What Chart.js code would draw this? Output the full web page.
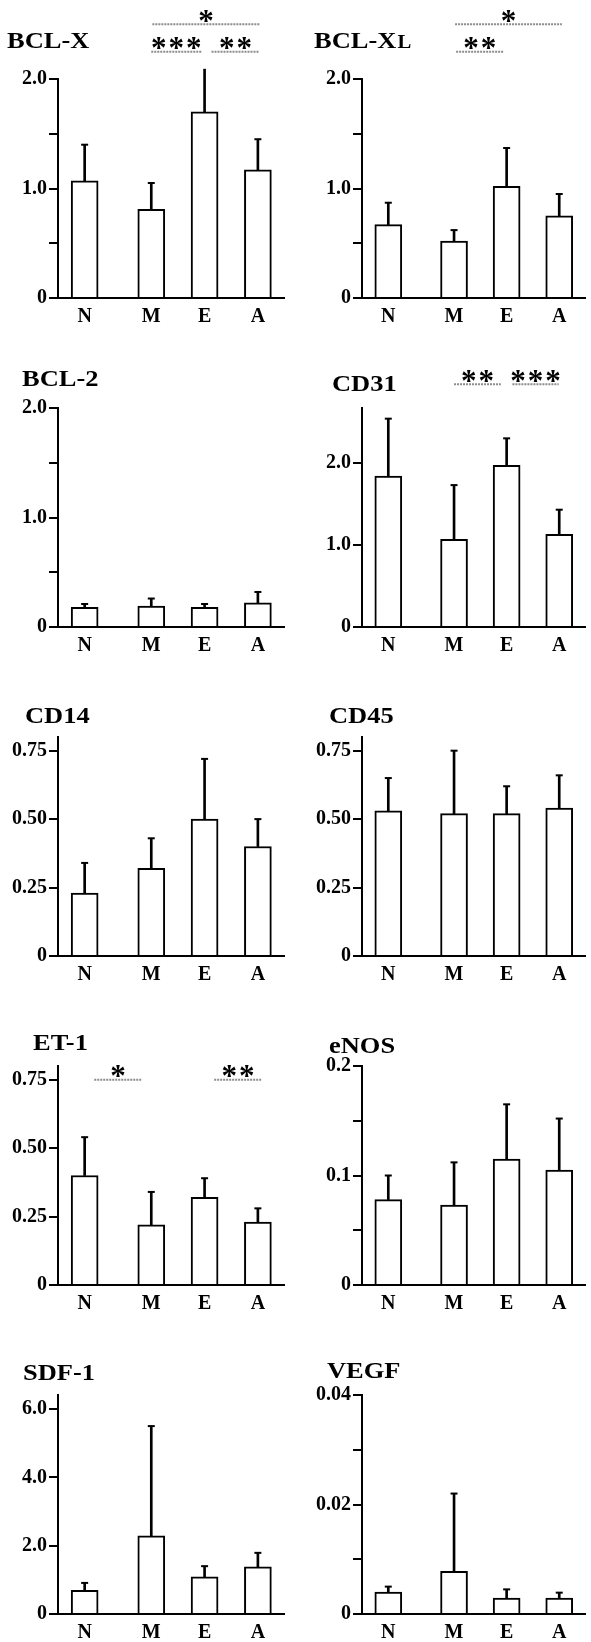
<!DOCTYPE html>
<html>
<head>
<meta charset="utf-8">
<script src="https://cdn.jsdelivr.net/npm/chart.js@4.4.1/dist/chart.umd.min.js"></script>
<style>
  html, body { margin: 0; padding: 0; background: #fff; }
  #page { position: relative; width: 591px; height: 1642px; overflow: hidden; }
  .panel { position: absolute; width: 290px; height: 329px; }
  .panel.right { width: 287px; }
</style>
</head>
<body>
<div id="page"></div>
<script>
// groups on the x axis (N and M are spaced a little further apart)
const groups = ['N', 'M', 'E', 'A'];
const groupX = [0.5, 1.75, 2.75, 3.75];

const markers = ['BCL-X', 'BCL-XL', 'BCL-2', 'CD31', 'CD14', 'CD45', 'ET-1', 'eNOS', 'SDF-1', 'VEGF'];

// bar heights, one row per marker (N, M, E, A)
const means = [
    [1.07, 0.81, 1.70, 1.17],
    [0.67, 0.52, 1.02, 0.75],
    [0.18, 0.19, 0.18, 0.22],
    [1.84, 1.07, 1.97, 1.13],
    [0.23, 0.32, 0.50, 0.40],
    [0.53, 0.52, 0.52, 0.54],
    [0.40, 0.22, 0.32, 0.23],
    [0.078, 0.073, 0.115, 0.105],
    [0.69, 2.29, 1.09, 1.38],
    [0.0040, 0.0078, 0.0029, 0.0029],
];

// top of the error bar for each bar
const errTops = [
    [1.40, 1.05, 2.09, 1.45],
    [0.87, 0.62, 1.37, 0.95],
    [0.21, 0.26, 0.21, 0.32],
    [2.54, 1.73, 2.30, 1.43],
    [0.34, 0.43, 0.72, 0.50],
    [0.65, 0.75, 0.62, 0.66],
    [0.54, 0.34, 0.39, 0.28],
    [0.100, 0.112, 0.165, 0.152],
    [0.91, 5.50, 1.40, 1.79],
    [0.0050, 0.0220, 0.0045, 0.0039],
];

const yMax = [2, 2, 2, 2.67, 0.8, 0.8, 0.8, 0.2, 6.41, 0.04];

const yTicks = [
    [0, 0.5, 1, 1.5, 2],
    [0, 0.5, 1, 1.5, 2],
    [0, 0.5, 1, 1.5, 2],
    [0, 1, 2],
    [0, 0.25, 0.5, 0.75],
    [0, 0.25, 0.5, 0.75],
    [0, 0.25, 0.5, 0.75],
    [0, 0.05, 0.1, 0.15, 0.2],
    [0, 2, 4, 6],
    [0, 0.01, 0.02, 0.03, 0.04],
];

const yTickLabels = [
    ['0', '', '1.0', '', '2.0'],
    ['0', '', '1.0', '', '2.0'],
    ['0', '', '1.0', '', '2.0'],
    ['0', '1.0', '2.0'],
    ['0', '0.25', '0.50', '0.75'],
    ['0', '0.25', '0.50', '0.75'],
    ['0', '0.25', '0.50', '0.75'],
    ['0', '', '0.1', '', '0.2'],
    ['0', '2.0', '4.0', '6.0'],
    ['0', '', '0.02', '', '0.04'],
];

// marker, stars, from x, to x, level (y value of the underline)
const significance = [
    ['BCL-X', '*', 1.77, 3.78, 2.5],
    ['BCL-X', '***', 1.75, 2.69, 2.25],
    ['BCL-X', '**', 2.88, 3.78, 2.25],
    ['BCL-XL', '*', 1.77, 3.80, 2.5],
    ['BCL-XL', '**', 1.79, 2.69, 2.25],
    ['CD31', '**', 1.75, 2.64, 2.96],
    ['CD31', '***', 2.86, 3.74, 2.96],
    ['ET-1', '*', 0.68, 1.57, 0.75],
    ['ET-1', '**', 2.93, 3.82, 0.75],
];

// title placement inside each panel (left x, middle y)
const titlePos = [[7, 40], [10, 40], [22, 49], [28, 54], [25, 57], [25, 57], [33, 55], [25, 58], [23, 56], [23, 54]];

const FONT = '"Liberation Serif", "Times New Roman", serif';

const annotate = {
    id: 'annotate',
    afterDraw(chart, args, opts) {
        const ctx = chart.ctx;
        const xs = chart.scales.x, ys = chart.scales.y;

        // panel title, slightly widened like the original figure
        ctx.save();
        ctx.fillStyle = '#000';
        ctx.textBaseline = 'alphabetic';
        ctx.translate(opts.pos[0], opts.pos[1] + 8);
        ctx.scale(1.15, 1);
        ctx.font = 'bold 23px ' + FONT;
        let name = opts.title, small = '';
        if (name === 'BCL-XL') { name = 'BCL-X'; small = 'L'; }
        ctx.fillText(name, 0, 0);
        if (small) {
            const w = ctx.measureText(name).width;
            ctx.font = 'bold 18px ' + FONT;
            ctx.fillText(small, w + 1, 0);
        }
        ctx.restore();

        // significance stars with grey underline
        opts.marks.forEach(([, stars, from, to, level]) => {
            const x0 = xs.getPixelForValue(from);
            const x1 = xs.getPixelForValue(to);
            const ly = ys.getPixelForValue(level);
            ctx.save();
            ctx.strokeStyle = '#8c8c8c';
            ctx.lineWidth = 2;
            ctx.setLineDash([2, 1]);
            ctx.beginPath();
            ctx.moveTo(x0, ly);
            ctx.lineTo(x1, ly);
            ctx.stroke();
            ctx.setLineDash([]);
            ctx.font = 'bold 31px ' + FONT;
            ctx.letterSpacing = '2px';
            ctx.textAlign = 'center';
            ctx.textBaseline = 'alphabetic';
            ctx.fillStyle = '#000';
            const m = ctx.measureText(stars);
            const cy = ly - 8.5;
            const base = cy + (m.actualBoundingBoxAscent - m.actualBoundingBoxDescent) / 2;
            ctx.fillText(stars, (x0 + x1) / 2 + 1, base);
            ctx.restore();
        });
    }
};

const page = document.getElementById('page');

markers.forEach((name, i) => {
    const col = i % 2;
    const row = Math.floor(i / 2);
    const div = document.createElement('div');
    div.className = 'panel' + (col ? ' right' : '');
    div.style.left = (col ? 304 : 0) + 'px';
    div.style.top = (row * 329) + 'px';
    const canvas = document.createElement('canvas');
    div.appendChild(canvas);
    page.appendChild(div);

    const tickFont = { family: FONT, size: 20, weight: 'bold' };

    new Chart(canvas, {
        type: 'bar',
        data: {
            datasets: [
                {
                    data: groupX.map((gx, k) => ({ x: gx, y: means[i][k] })),
                    backgroundColor: '#fff',
                    borderColor: '#000',
                    borderWidth: 2,
                    barThickness: 27,
                    order: 3,
                },
                {
                    // error bar stems
                    data: groupX.map((gx, k) => ({ x: gx, y: [means[i][k], errTops[i][k]] })),
                    backgroundColor: '#000',
                    borderWidth: 0,
                    barThickness: 2,
                    clip: false,
                    order: 2,
                },
                {
                    // error bar caps
                    type: 'scatter',
                    data: groupX.map((gx, k) => ({ x: gx, y: errTops[i][k] })),
                    pointStyle: 'line',
                    pointRadius: 3.5,
                    pointBorderWidth: 2,
                    pointBorderColor: '#000',
                    clip: false,
                    order: 1,
                },
            ]
        },
        options: {
            responsive: true,
            maintainAspectRatio: false,
            animation: false,
            events: [],
            layout: { padding: { top: 79, right: col ? 0 : 2, left: 0, bottom: 0 } },
            datasets: { bar: { grouped: false } },
            plugins: {
                legend: { display: false },
                tooltip: { enabled: false },
                annotate: {
                    title: name,
                    pos: titlePos[i],
                    marks: significance.filter(s => s[0] === name),
                },
            },
            scales: {
                x: {
                    type: 'linear',
                    min: 0,
                    max: 4.24,
                    offset: false,
                    grid: { display: false, drawTicks: false },
                    border: { display: true, color: '#000', width: 2 },
                    ticks: {
                        font: tickFont,
                        color: '#000',
                        padding: 7,
                        autoSkip: false,
                        maxRotation: 0,
                        callback: (v, idx) => groups[idx],
                    },
                    afterBuildTicks: axis => { axis.ticks = groupX.map(v => ({ value: v })); },
                    afterFit: axis => { axis.height = 31; },
                },
                y: {
                    min: 0,
                    max: yMax[i],
                    grid: { drawOnChartArea: false, color: '#000', lineWidth: 2, tickLength: 9 },
                    border: { display: true, color: '#000', width: 2 },
                    ticks: {
                        font: tickFont,
                        color: '#000',
                        padding: 2,
                        autoSkip: false,
                        callback: (v, idx) => yTickLabels[i][idx],
                    },
                    afterBuildTicks: axis => { axis.ticks = yTicks[i].map(v => ({ value: v })); },
                    afterFit: axis => { axis.width = 58; },
                },
            },
        },
        plugins: [annotate],
    });
});
</script>
</body>
</html>
